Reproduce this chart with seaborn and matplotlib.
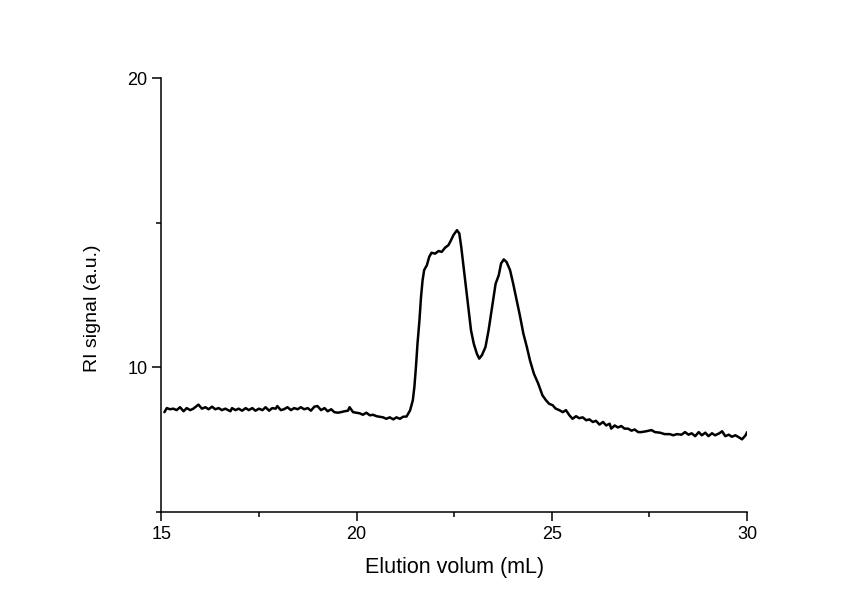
import numpy as np
import pandas as pd
import matplotlib.pyplot as plt
from matplotlib.ticker import MultipleLocator
import seaborn as sns

# baseline before the peaks
base_x = [15.08, 15.14, 15.22, 15.31, 15.39, 15.48, 15.57, 15.65, 15.74, 15.82, 15.95, 16.04,
          16.13, 16.21, 16.30, 16.38, 16.47, 16.55, 16.64, 16.77, 16.81, 16.90, 16.98, 17.07,
          17.16, 17.24, 17.33, 17.41, 17.50, 17.59, 17.67, 17.76, 17.84, 17.93, 17.97, 18.06,
          18.14, 18.23, 18.32, 18.40, 18.49, 18.57, 18.66, 18.75, 18.83, 18.92, 19.00, 19.09,
          19.18, 19.26, 19.35, 19.43, 19.52, 19.60, 19.69, 19.78, 19.82, 19.91, 19.99, 20.08,
          20.16, 20.25, 20.34, 20.42, 20.51, 20.59, 20.68, 20.76, 20.85, 20.94, 21.02, 21.11, 21.19]
base_y = [8.45, 8.59, 8.55, 8.57, 8.52, 8.62, 8.48, 8.59, 8.52, 8.57, 8.71, 8.57,
          8.62, 8.55, 8.64, 8.55, 8.59, 8.52, 8.57, 8.48, 8.59, 8.52, 8.57, 8.50,
          8.59, 8.52, 8.59, 8.50, 8.57, 8.52, 8.62, 8.50, 8.59, 8.57, 8.66, 8.52,
          8.55, 8.62, 8.52, 8.59, 8.55, 8.62, 8.55, 8.59, 8.50, 8.64, 8.66, 8.52,
          8.59, 8.48, 8.55, 8.45, 8.43, 8.45, 8.48, 8.50, 8.62, 8.45, 8.43, 8.41,
          8.36, 8.43, 8.34, 8.36, 8.31, 8.29, 8.27, 8.22, 8.27, 8.20, 8.27, 8.22, 8.29]

# the two peaks
peak_x = [21.28, 21.37, 21.44, 21.48, 21.52, 21.56, 21.61, 21.65, 21.69, 21.73, 21.80, 21.86,
          21.92, 22.01, 22.10, 22.18, 22.27, 22.35, 22.41, 22.48, 22.57, 22.63, 22.68, 22.74,
          22.81, 22.87, 22.93, 23.00, 23.08, 23.14, 23.21, 23.30, 23.38, 23.47, 23.56, 23.64,
          23.70, 23.77, 23.84, 23.93, 24.01, 24.10, 24.18, 24.27, 24.36, 24.44, 24.54, 24.65]
peak_y = [8.30, 8.51, 8.86, 9.32, 10.01, 10.82, 11.63, 12.43, 13.01, 13.36, 13.53, 13.82,
          13.96, 13.93, 14.02, 13.99, 14.14, 14.22, 14.37, 14.57, 14.74, 14.63, 14.16, 13.47,
          12.66, 11.97, 11.28, 10.82, 10.47, 10.30, 10.42, 10.70, 11.28, 12.09, 12.89, 13.18,
          13.59, 13.73, 13.64, 13.36, 12.89, 12.32, 11.80, 11.17, 10.70, 10.24, 9.78, 9.44]

# tail after the peaks
tail_x = [24.76, 24.85, 24.93, 25.02, 25.10, 25.19, 25.28, 25.36, 25.45, 25.53, 25.62, 25.70,
          25.79, 25.88, 25.96, 26.05, 26.13, 26.22, 26.31, 26.39, 26.48, 26.52, 26.61, 26.69,
          26.78, 26.86, 26.95, 27.04, 27.12, 27.21,
          27.29, 27.42, 27.55, 27.64, 27.77, 27.89, 28.02, 28.11, 28.20, 28.32, 28.41, 28.50,
          28.58, 28.67, 28.76, 28.84, 28.93, 29.01, 29.10, 29.18, 29.29, 29.36, 29.44, 29.53,
          29.61, 29.70, 29.79, 29.87, 29.96, 30.00]
tail_y = [9.03, 8.86, 8.74, 8.69, 8.57, 8.52, 8.45, 8.52, 8.34, 8.22, 8.31, 8.24,
          8.27, 8.17, 8.20, 8.11, 8.15, 8.02, 8.11, 7.99, 8.05, 7.88, 7.99, 7.92,
          7.97, 7.88, 7.88, 7.81, 7.85, 7.76,
          7.76, 7.79, 7.83, 7.76, 7.74, 7.69, 7.69, 7.65, 7.69, 7.67, 7.76, 7.67,
          7.72, 7.62, 7.76, 7.65, 7.74, 7.62, 7.72, 7.65, 7.72, 7.79, 7.62, 7.67,
          7.60, 7.65, 7.58, 7.51, 7.65, 7.76]

dados = pd.DataFrame({'volume': base_x + peak_x + tail_x,
                      'sinal': base_y + peak_y + tail_y})

sns.set_style('ticks')
plt.rcParams['font.family'] = ['Liberation Sans', 'DejaVu Sans']

fig = plt.figure(figsize=(8.49, 6.03), dpi=100)
ax = fig.add_axes([0.19, 0.151, 0.69, 0.7196])

sns.lineplot(data=dados, x='volume', y='sinal', color='black', linewidth=1.8,
             sort=False, ax=ax)

ax.set_xlim(15, 30)
ax.set_ylim(5, 20)
ax.xaxis.set_major_locator(MultipleLocator(5))
ax.xaxis.set_minor_locator(MultipleLocator(2.5))
ax.yaxis.set_major_locator(MultipleLocator(10))
ax.yaxis.set_minor_locator(MultipleLocator(5))
ax.tick_params(which='major', length=6.5, width=1.1, labelsize=13, color='black', labelcolor='black')
ax.tick_params(which='minor', length=3.5, width=1.1, color='black')

ax.set_xlabel('Elution volum (mL)', fontsize=15.5, color='black', labelpad=10)
ax.set_ylabel('RI signal (a.u.)', fontsize=14, color='black', labelpad=19)
ax.yaxis.label.set_y(0.47)

sns.despine(ax=ax)
for s in ['left', 'bottom']:
    ax.spines[s].set_linewidth(1.1)
    ax.spines[s].set_color('black')

fig.savefig('out.png', dpi=100)
